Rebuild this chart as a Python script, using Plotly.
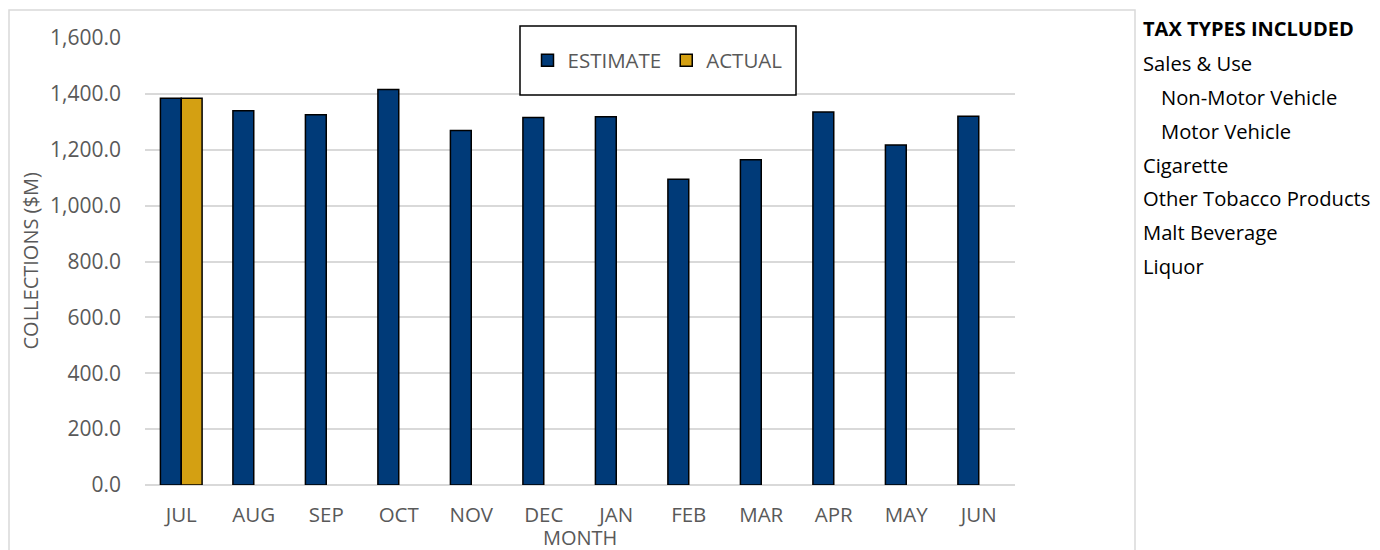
import plotly.graph_objects as go

months = ["JUL", "AUG", "SEP", "OCT", "NOV", "DEC", "JAN", "FEB", "MAR", "APR", "MAY", "JUN"]
estimate = [1384, 1340, 1325, 1416, 1269, 1315, 1318, 1094, 1164, 1335, 1217, 1320]
actual = [1384, None, None, None, None, None, None, None, None, None, None, None]
tax_title = "TAX TYPES INCLUDED"
tax_lines = ["Sales & Use", "Non-Motor Vehicle", "Motor Vehicle", "Cigarette",
             "Other Tobacco Products", "Malt Beverage", "Liquor"]
tax_indent = [0, 1, 1, 0, 0, 0, 0]

FONT = "'Open Sans', 'Noto Sans', sans-serif"
GRAY = "#595959"

# page body has an 8px margin: figure coordinates = screen - 8
OFF = 8
W, H = 1380 - OFF, 550 - OFF
L, R, T, B = 145 - OFF, 1015 - OFF, 38 - OFF, 485 - OFF
pw, ph = R - L, B - T


def px_x(p):
    return (p - OFF - L) / pw


def px_y(p):
    return (B - (p - OFF)) / ph


fig = go.Figure()
fig.add_trace(go.Bar(x=months, y=estimate, name="ESTIMATE",
                     marker=dict(color="#003A78", line=dict(color="black", width=1.5))))
fig.add_trace(go.Bar(x=months, y=actual, name="ACTUAL",
                     marker=dict(color="#D4A012", line=dict(color="black", width=1.5))))

shapes = [
    dict(type="rect", xref="paper", yref="paper",
         x0=px_x(9), x1=px_x(1135), y0=px_y(600), y1=px_y(10),
         line=dict(color="#D9D9D9", width=1.5), layer="below"),
    dict(type="rect", xref="paper", yref="paper",
         x0=px_x(520), x1=px_x(796), y0=px_y(95), y1=px_y(26),
         line=dict(color="black", width=1.5), fillcolor="white", layer="above"),
]

annotations = [dict(text="<b>" + tax_title + "</b>", xref="paper", yref="paper",
                    x=px_x(1141), y=px_y(29), xanchor="left", yanchor="middle",
                    showarrow=False, font=dict(family=FONT, size=20, color="black"))]
for i, (t, ind) in enumerate(zip(tax_lines, tax_indent)):
    annotations.append(dict(text=t, xref="paper", yref="paper",
                            x=px_x(1141 + 18 * ind), y=px_y(63 + 33.85 * i),
                            xanchor="left", yanchor="middle", showarrow=False,
                            font=dict(family=FONT, size=20.2, color="black")))
annotations.append(dict(text="MONTH", xref="paper", yref="paper", x=0.5, y=px_y(537),
                        xanchor="center", yanchor="middle", showarrow=False,
                        font=dict(family=FONT, size=20, color=GRAY)))
annotations.append(dict(text="COLLECTIONS ($M)", xref="paper", yref="paper", x=px_x(30), y=0.5,
                        xanchor="center", yanchor="middle", showarrow=False, textangle=-90,
                        font=dict(family=FONT, size=20, color=GRAY)))

fig.update_layout(
    width=W, height=H,
    margin=dict(l=L, r=W - R, t=T, b=H - B, pad=0),
    paper_bgcolor="white", plot_bgcolor="white",
    barmode="group", bargap=0.425, bargroupgap=0,
    font=dict(family=FONT, size=20, color=GRAY),
    showlegend=True,
    legend=dict(orientation="h", x=px_x(527.5), y=px_y(40.5), xanchor="left", yanchor="top",
                borderwidth=0, bgcolor="rgba(0,0,0,0)",
                font=dict(family=FONT, size=20.5, color=GRAY),
                traceorder="normal"),
    xaxis=dict(showgrid=False, showline=False, ticks="", tickfont=dict(size=20.5, color=GRAY),
               ticklabelstandoff=15),
    yaxis=dict(range=[0, 1600], dtick=200, tickformat=",.1f", showgrid=True,
               gridcolor="#D9D9D9", gridwidth=1.5, zeroline=True, zerolinecolor="#D9D9D9",
               zerolinewidth=1.5, showline=False, ticks="", tickfont=dict(size=21, color=GRAY),
               ticklabelstandoff=23),
    shapes=shapes, annotations=annotations,
)

fig.write_html("out.html")
